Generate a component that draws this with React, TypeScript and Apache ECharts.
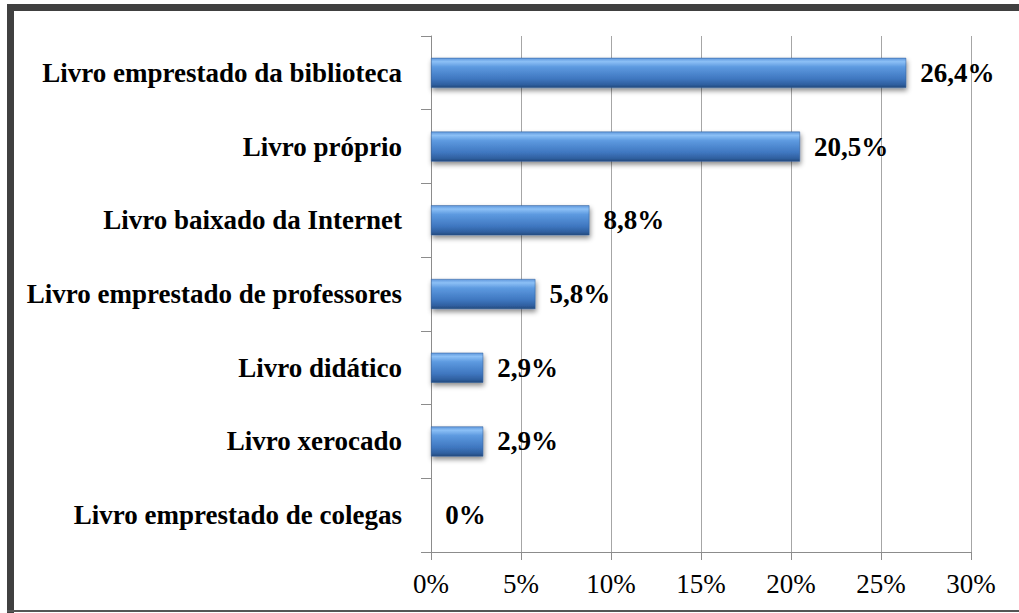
import React, { useEffect, useRef } from "react";
import * as echarts from "echarts";

const categories = [
  "Livro emprestado da biblioteca",
  "Livro próprio",
  "Livro baixado da Internet",
  "Livro emprestado de professores",
  "Livro didático",
  "Livro xerocado",
  "Livro emprestado de colegas",
];
const values = [26.4, 20.5, 8.8, 5.8, 2.9, 2.9, 0];
const valueLabels = ["26,4%", "20,5%", "8,8%", "5,8%", "2,9%", "2,9%", "0%"];
const xTicks = [0, 5, 10, 15, 20, 25, 30];

const FONT = "Times New Roman, Liberation Serif, serif";

export default function App() {
  const ref = useRef<HTMLDivElement>(null);
  useEffect(() => {
    if (!ref.current) return;
    const chart = echarts.init(ref.current, undefined, { renderer: "svg" });
    chart.setOption({
      animation: false,
      backgroundColor: "#ffffff",
      textStyle: { fontFamily: FONT },
      grid: { left: 431, right: 48, top: 36, bottom: 61, containLabel: false },
      xAxis: {
        type: "value",
        min: xTicks[0],
        max: xTicks[xTicks.length - 1],
        interval: 5,
        axisLine: { show: true, lineStyle: { color: "#8c8c8c", width: 1 } },
        axisTick: { show: true, length: 8, lineStyle: { color: "#8c8c8c" } },
        splitLine: { show: true, lineStyle: { color: "#a6a6a6", width: 1 } },
        axisLabel: {
          margin: 18,
          color: "#000",
          fontFamily: FONT,
          fontSize: 27,
          formatter: (v: number) => `${v}%`,
        },
      },
      yAxis: {
        type: "category",
        inverse: true,
        data: categories,
        axisLine: { show: true, lineStyle: { color: "#8c8c8c", width: 1 } },
        axisTick: { show: true, length: 10, lineStyle: { color: "#8c8c8c" } },
        axisLabel: {
          margin: 29,
          color: "#000",
          fontFamily: FONT,
          fontSize: 27,
          fontWeight: "bold",
        },
      },
      series: [
        {
          type: "bar",
          data: values,
          barWidth: 30,
          itemStyle: {
            color: new echarts.graphic.LinearGradient(0, 0, 0, 1, [
              { offset: 0, color: "#5f97dc" },
              { offset: 0.12, color: "#8cc0f6" },
              { offset: 0.3, color: "#5d9ae0" },
              { offset: 0.7, color: "#3f77c0" },
              { offset: 0.9, color: "#2f5f9f" },
              { offset: 1, color: "#24497c" },
            ]),
            borderColor: "#2c5a96",
            borderWidth: 0.5,
            shadowColor: "rgba(0,0,0,0.45)",
            shadowBlur: 5,
            shadowOffsetY: 3,
            shadowOffsetX: 1,
          },
          label: {
            show: true,
            position: "right",
            distance: 14,
            color: "#000",
            fontFamily: FONT,
            fontSize: 27,
            fontWeight: "bold",
            formatter: (p: any) => valueLabels[p.dataIndex],
          },
        },
      ],
      graphic: [
        { type: "rect", shape: { x: 7, y: 4, width: 1012, height: 7 }, style: { fill: "#404040" } },
        { type: "rect", shape: { x: 7, y: 4, width: 7, height: 609 }, style: { fill: "#404040" } },
        { type: "rect", shape: { x: 7, y: 610, width: 1012, height: 2 }, style: { fill: "#555555" } },
      ],
    });
    return () => chart.dispose();
  }, []);
  return (
    <div
      ref={ref}
      style={{ position: "absolute", left: 0, top: 0, width: 1019, height: 613 }}
    />
  );
}
